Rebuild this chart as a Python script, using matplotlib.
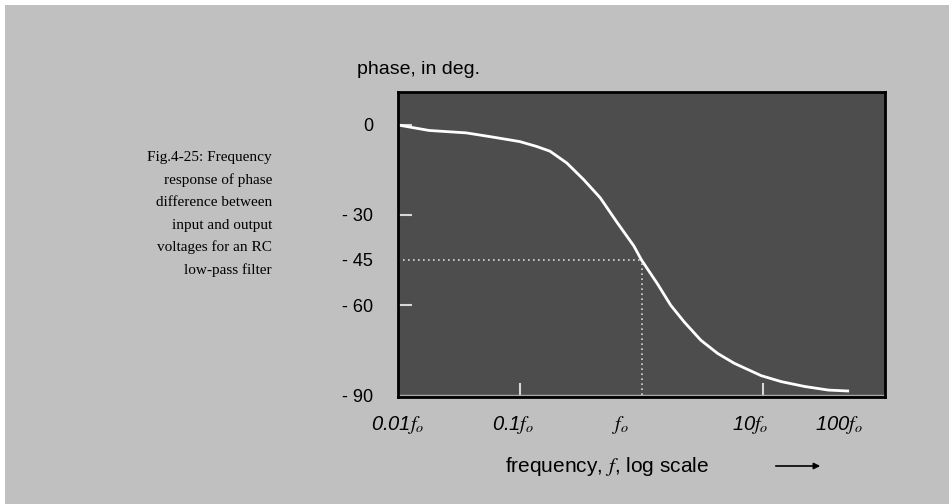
import matplotlib
matplotlib.use("Agg")
import matplotlib.pyplot as plt
from matplotlib.patches import Rectangle

plt.rcParams['font.family'] = ['Liberation Sans', 'DejaVu Sans']
plt.rcParams['mathtext.fontset'] = 'stix'

# curve: frequency (in units of fo) and phase in degrees
freq = [0.0104, 0.018, 0.0363, 0.060, 0.1, 0.137, 0.177, 0.243, 0.334, 0.458,
        0.630, 0.864, 1.0, 1.35, 1.74, 2.24, 3.07, 4.22, 5.79, 9.62, 14.1,
        21.9, 34.3, 49.4]
phase = [-0.2, -1.9, -2.7, -4.1, -5.6, -7.2, -8.8, -12.7, -18.2, -24.3,
         -32.5, -40.3, -45.0, -52.9, -60.1, -65.6, -71.7, -76.1, -79.4, -83.5,
         -85.5, -87.1, -88.3, -88.6]

y_ticks = [0, -30, -45, -60, -90]
y_labels = ["0", "- 30", "- 45", "- 60", "- 90"]
x_marks = [0.1, 10]
x_label_pos = [0.01, 0.089, 0.67, 7.9, 42]
x_labels = ["0.01$f_o$", "0.1$f_o$", "$f_o$", "10$f_o$", "100$f_o$"]

caption = ["Fig.4-25: Frequency", "response of phase", "difference between",
           "input and output", "voltages for an RC", "low-pass filter"]

W, H = 949, 504
fig = plt.figure(figsize=(W / 100, H / 100), dpi=100)
fig.patch.set_facecolor('white')
fig.patches.append(Rectangle((5 / W, 0), 1, 1 - 5 / H, transform=fig.transFigure,
                             facecolor='#c0c0c0', edgecolor='none', zorder=-10))

ax = fig.add_axes([398 / W, 1 - 397 / H, (885 - 398) / W, (397 - 92) / H])
ax.set_facecolor('#4d4d4d')
ax.set_xscale('log')
ax.set_xlim(0.01, 100)
ax.set_ylim(-90.6, 10.9)
for s in ax.spines.values():
    s.set_color('black')
    s.set_linewidth(2)

ax.axhline(-90, color='#a8a8a8', lw=1)
ax.plot(freq, phase, color='white', lw=2)
ax.plot([0.01, 1], [-45, -45], color='#d8d8d8', lw=1.2, ls=(0, (1, 2)))
ax.plot([1, 1], [-90, -45], color='#d8d8d8', lw=1.2, ls=(0, (1, 2)))

# y ticks
ax.set_yticks(y_ticks)
ax.set_yticklabels(y_labels, fontsize=13)
ax.tick_params(axis='y', direction='in', length=10, width=1.5, color='#d8d8d8', pad=18)
for i, t in enumerate(ax.yaxis.get_major_ticks()):
    if y_ticks[i] in (-45, -90):
        t.tick1line.set_visible(False)

# x ticks: marks at decades, labels set where the picture has them
ax.xaxis.set_major_locator(matplotlib.ticker.FixedLocator(x_label_pos))
ax.set_xticklabels(x_labels, fontsize=14.5, style='italic')
ax.xaxis.set_minor_locator(matplotlib.ticker.FixedLocator(x_marks))
ax.xaxis.set_minor_formatter(matplotlib.ticker.NullFormatter())
ax.tick_params(axis='x', which='major', length=0, pad=12)
ax.tick_params(axis='x', which='minor', direction='in', length=10, width=1.5, color='#d8d8d8')

fig.text(357 / W, 1 - 70 / H, "phase, in deg.", fontsize=14, va='center', ha='left')
fig.text(505 / W, 1 - 466 / H, "frequency, $f$, log scale", fontsize=15, va='center', ha='left')
fig.patches.append(matplotlib.patches.FancyArrowPatch(
    (773 / W, 1 - 466 / H), (823 / W, 1 - 466 / H), transform=fig.transFigure,
    arrowstyle='-|>', mutation_scale=9, color='black', lw=1.2))

for i, line in enumerate(caption):
    fig.text(272 / W, 1 - (158 + 22.4 * i) / H, line, fontsize=11,
             family='Liberation Serif', ha='right', va='center')

fig.savefig('out.png', dpi=100)
